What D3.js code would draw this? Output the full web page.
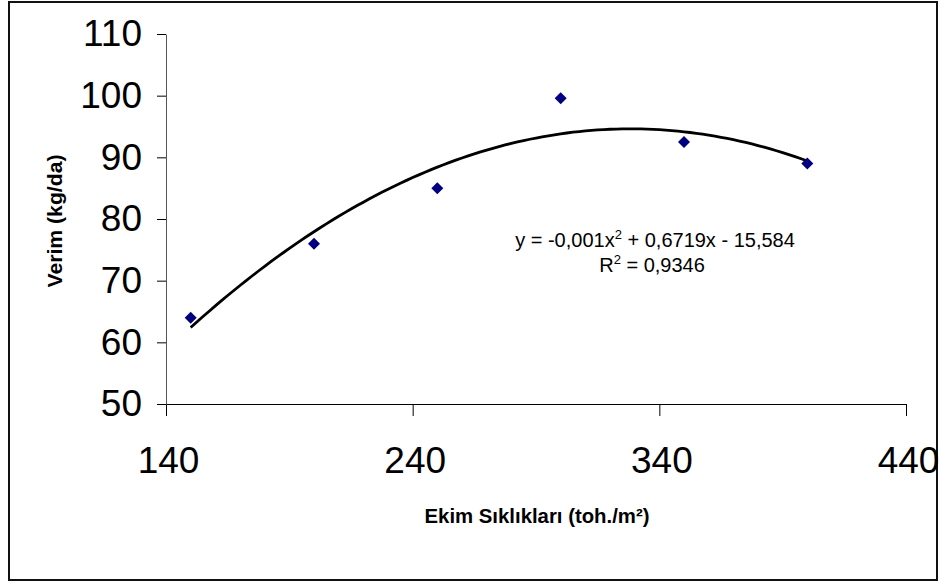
<!DOCTYPE html>
<html>
<head>
<meta charset="utf-8">
<script src="https://cdn.jsdelivr.net/npm/d3@7"></script>
<style>
  body { margin: 0; background: #fff; }
  text { font-family: "Liberation Sans", Arial, sans-serif; }
</style>
</head>
<body>
<svg id="chart" width="939" height="583"></svg>
<script>
// 資料
const density = [150, 200, 250, 300, 350, 400];
const yieldVals = [64, 76, 85, 99.6, 92.5, 89];
const xTicks = [140, 240, 340, 440];
const yTicks = [50, 60, 70, 80, 90, 100, 110];
const eqLine1 = "y = -0,001x";
const eqLine1b = " + 0,6719x - 15,584";
const eqLine2 = "R";
const eqLine2b = " = 0,9346";

const svg = d3.select("#chart");

// 外框
svg.append("rect")
    .attr("x", 9).attr("y", 2)
    .attr("width", 928).attr("height", 578)
    .attr("fill", "none")
    .attr("stroke", "#111")
    .attr("stroke-width", 2);

const x = d3.scaleLinear().domain([140, 440]).range([166, 906]);
const y = d3.scaleLinear().domain([50, 110]).range([404, 34]);

// X 軸
const xAxis = svg.append("g")
    .attr("transform", "translate(0,404)")
    .call(d3.axisBottom(x).tickValues(xTicks).tickSize(12).tickSizeOuter(0).tickPadding(31));
xAxis.select(".domain").attr("d", "M157,0.5H906").attr("stroke", "#000");
xAxis.selectAll("line").attr("stroke", "#000");
xAxis.selectAll("text").attr("font-size", 37).attr("fill", "#000")
    .attr("dx", 2)
    .style("font-family", "'Liberation Sans', Arial, sans-serif");

// Y 軸
const yAxis = svg.append("g")
    .attr("transform", "translate(166,0)")
    .call(d3.axisLeft(y).tickValues(yTicks).tickSize(9).tickSizeOuter(0).tickPadding(15));
yAxis.select(".domain").attr("stroke", "#555");
yAxis.selectAll("line").attr("stroke", "#000");
yAxis.selectAll("text").attr("font-size", 37).attr("fill", "#000")
    .style("font-family", "'Liberation Sans', Arial, sans-serif");

// 二次回歸（最小平方法）
function quadFit(xs, ys) {
    let s = [0, 0, 0, 0, 0], t = [0, 0, 0];
    xs.forEach((xv, i) => {
        for (let k = 0; k < 5; k++) s[k] += Math.pow(xv, k);
        for (let k = 0; k < 3; k++) t[k] += ys[i] * Math.pow(xv, k);
    });
    const M = [[s[0], s[1], s[2], t[0]], [s[1], s[2], s[3], t[1]], [s[2], s[3], s[4], t[2]]];
    for (let i = 0; i < 3; i++) {
        for (let j = i + 1; j < 3; j++) {
            const f = M[j][i] / M[i][i];
            for (let k = i; k < 4; k++) M[j][k] -= f * M[i][k];
        }
    }
    const c = [0, 0, 0];
    for (let i = 2; i >= 0; i--) {
        let v = M[i][3];
        for (let k = i + 1; k < 3; k++) v -= M[i][k] * c[k];
        c[i] = v / M[i][i];
    }
    return c;
}
const coef = quadFit(density, yieldVals);
const trend = d3.range(150, 400.1, 2.5).map(v => [v, coef[0] + coef[1] * v + coef[2] * v * v]);

svg.append("path")
    .datum(trend)
    .attr("fill", "none")
    .attr("stroke", "#000")
    .attr("stroke-width", 2.8)
    .attr("d", d3.line().x(d => x(d[0])).y(d => y(d[1])));

// 資料點（菱形）
svg.append("g")
    .selectAll("path")
    .data(density)
    .join("path")
    .attr("transform", (d, i) => `translate(${x(d)},${y(yieldVals[i])})`)
    .attr("d", "M0,-6L6,0L0,6L-6,0Z")
    .attr("fill", "#000080");

// 軸標題
svg.append("text")
    .attr("x", 537).attr("y", 523)
    .attr("text-anchor", "middle")
    .attr("font-size", 21).attr("font-weight", "bold")
    .attr("textLength", 225).attr("lengthAdjust", "spacingAndGlyphs")
    .text("Ekim Sıklıkları (toh./m²)");

svg.append("text")
    .attr("transform", "translate(62,221) rotate(-90)")
    .attr("text-anchor", "middle")
    .attr("font-size", 21).attr("font-weight", "bold")
    .attr("textLength", 133).attr("lengthAdjust", "spacingAndGlyphs")
    .text("Verim (kg/da)");

// 方程式
const eq1 = svg.append("text")
    .attr("x", 655).attr("y", 247)
    .attr("text-anchor", "middle")
    .attr("font-size", 20);
eq1.append("tspan").text(eqLine1);
eq1.append("tspan").attr("font-size", 13).attr("dy", -8).text("2");
eq1.append("tspan").attr("dy", 8).text(eqLine1b);

const eq2 = svg.append("text")
    .attr("x", 652).attr("y", 272)
    .attr("text-anchor", "middle")
    .attr("font-size", 20);
eq2.append("tspan").text(eqLine2);
eq2.append("tspan").attr("font-size", 13).attr("dy", -8).text("2");
eq2.append("tspan").attr("dy", 8).text(eqLine2b);
</script>
</body>
</html>
